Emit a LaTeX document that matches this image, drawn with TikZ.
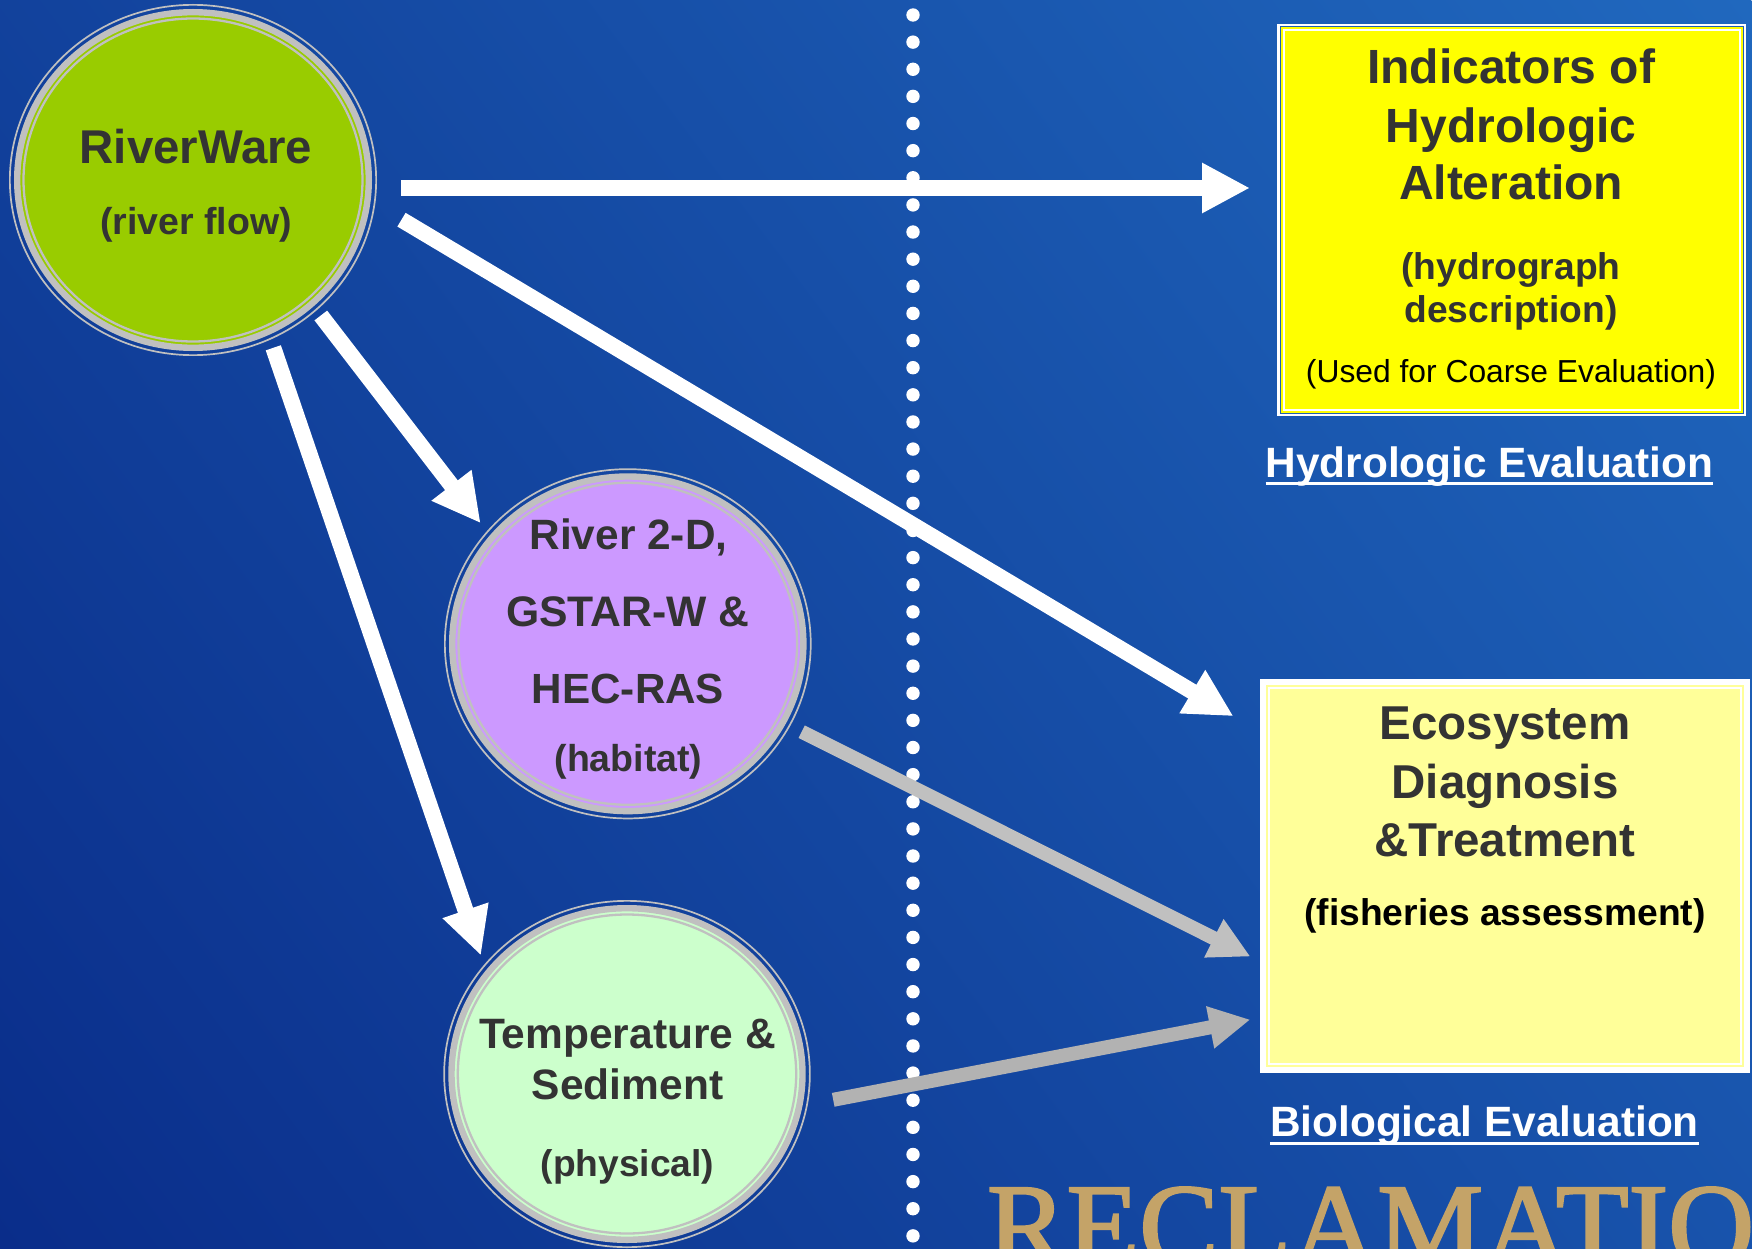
\documentclass[tikz,border=0pt]{standalone}
\usepackage{fontspec}
\setmainfont{Liberation Sans}
\newfontfamily\recfont[FakeBold=2]{Liberation Serif}
\usetikzlibrary{arrows.meta,shapes.geometric}
\definecolor{bgdark}{HTML}{0A2D8A}
\definecolor{bgmid}{HTML}{1345A2}
\definecolor{bglight}{HTML}{2068BE}
\definecolor{boxblue}{HTML}{1F60B6}
\definecolor{ringgray}{HTML}{C0C0C0}
\definecolor{greyb}{HTML}{B2B2B2}
\definecolor{inkd}{HTML}{333333}
\definecolor{lime}{HTML}{99CC00}
\definecolor{lilac}{HTML}{CC99FF}
\definecolor{mint}{HTML}{CCFFCC}
\definecolor{paley}{HTML}{FFFF99}
\definecolor{brighty}{RGB}{255,255,0}
\definecolor{gold}{HTML}{C4A368}
\tikzset{
  x=1pt,y=-1pt,
  thickarrow/.style={line width=16pt,white,-{Triangle[length=48pt,width=47pt]}},
  greyarrow/.style={line width=14pt,-{Triangle[length=41pt,width=40pt]}},
  txt/.style={anchor=base,inner sep=0pt,outer sep=0pt,align=center},
  dark/.style={txt,text=inkd,font=\bfseries},
  head/.style={txt,text=white,font=\bfseries\fontsize{42.4}{42.4}\selectfont},
  under/.style={white,line width=3pt},
  bubble/.style={ellipse,inner sep=0pt,outer sep=0pt,draw=ringgray,line width=1.7pt},
}
\newcommand{\fs}[1]{\fontsize{#1}{#1}\selectfont}
% name, x, y, rx, ry, fill
\newcommand{\bubblenode}[6]{%
  \fill[#6] (#2,#3) ellipse [x radius=#4-6,y radius=#5-6];
  \draw[ringgray,line width=6.4pt] (#2,#3) ellipse [x radius=#4-8.2,y radius=#5-8.2];
  \draw[ringgray,line width=2.3pt] (#2,#3) ellipse [x radius=#4-14.5,y radius=#5-14.5];
  \node[bubble,minimum width=2*#4*1pt-1.7pt,minimum height=2*#5*1pt-1.7pt] (#1) at (#2,#3) {};
}
\begin{document}
\begin{tikzpicture}
\useasboundingbox (0,0) rectangle (1752,1249);
\begin{scope}
\clip (0,0) rectangle (1752,1249);
% background
\shade[transform canvas={shift={(0pt,-1249pt)},rotate=37},left color=bgdark,middle color=bgmid,right color=bglight]
  (0pt,-3000pt) rectangle (2150pt,3000pt);
% logo text
\node[anchor=base west,inner sep=0pt,text=gold] (logo) at (987,1266) {\recfont\fs{119}RECLAMATIO};
% dotted divider
\coordinate (dtop) at (913,15);
\coordinate (dbot) at (913,1240);
\draw[white,line width=13.4pt,line cap=round,dash pattern=on 0pt off 27.13pt] (dtop) -- (dbot);
% arrow ends
\coordinate (a1s) at (401,188);     \coordinate (a1e) at (1250,188);
\coordinate (a2s) at (401.5,219.7); \coordinate (a2e) at (1233.5,716.2);
\coordinate (a3s) at (320.8,315.5); \coordinate (a3e) at (480.7,523.3);
\coordinate (a4s) at (273.3,347.8); \coordinate (a4e) at (481,955.7);
\coordinate (a5s) at (801.7,731.7); \coordinate (a5e) at (1250.5,956.6);
\coordinate (a6s) at (833.2,1099.8);\coordinate (a6e) at (1250.4,1019.6);
\draw[thickarrow] (a1s) -- (a1e);
\draw[thickarrow] (a2s) -- (a2e);
\draw[thickarrow] (a3s) -- (a3e);
\draw[thickarrow,-{Triangle[length=48pt,width=45pt]}] (a4s) -- (a4e);
\draw[greyarrow,ringgray] (a5s) -- (a5e);
\draw[greyarrow,greyb] (a6s) -- (a6e);
% circles
\bubblenode{river}{193}{180}{184}{176}{lime}
\bubblenode{hab}{627.8}{643.8}{183.8}{175.5}{lilac}
\bubblenode{phys}{627}{1074}{183.7}{174}{mint}
\node[dark,font=\bfseries\fs{47.4}] (t1) at (196,163.3) {RiverWare};
\node[dark,font=\bfseries\fs{37.5}] (t2) at (196,235) {(river flow)};
\node[dark,font=\bfseries\fs{42.4}] (t3) at (628.5,549) {River 2-D,};
\node[dark,font=\bfseries\fs{42.7}] (t4) at (628,626) {GSTAR-W \&};
\node[dark,font=\bfseries\fs{42.2}] (t5) at (628,703.5) {HEC-RAS};
\node[dark,font=\bfseries\fs{37.5}] (t6) at (628.5,771) {(habitat)};
\node[dark,font=\bfseries\fs{42.5}] (t7) at (627.5,1048) {Temperature \&};
\node[dark,font=\bfseries\fs{42.5}] (t8) at (627.5,1099) {Sediment};
\node[dark,font=\bfseries\fs{37.2}] (t9) at (627.5,1176.5) {(physical)};
% box 1
\node[rectangle,fill=white,inner sep=0pt,minimum width=468.7pt,minimum height=392pt] (hia) at (1511.65,220) {};
\fill[boxblue] (1279.5,26.2) rectangle (1743.8,413.8);
\fill[brighty] (1280.5,27.2) rectangle (1742.8,412.8);
\fill[white] (1282.5,29.2) rectangle (1740.8,410.8);
\fill[brighty] (1284.7,31.4) rectangle (1738.6,408.6);
\node[dark,font=\bfseries\fs{48}] (b1) at (1511,83.8) {Indicators of};
\node[dark,font=\bfseries\fs{48}] (b2) at (1511,142.2) {Hydrologic};
\node[dark,font=\bfseries\fs{48}] (b3) at (1511,199.8) {Alteration};
\node[dark,font=\bfseries\fs{37.2}] (b4) at (1511,279.3) {(hydrograph};
\node[dark,font=\bfseries\fs{37.2}] (b5) at (1511,322.7) {description)};
\node[txt,font=\fs{31.8}] (b6) at (1511,382.7) {(Used for Coarse Evaluation)};
% box 2
\node[rectangle,fill=white,inner sep=0pt,minimum width=489.7pt,minimum height=393.4pt] (edt) at (1505.15,876) {};
\fill[paley] (1266.3,685.3) rectangle (1744,1066.7);
\fill[white] (1268.3,687.3) rectangle (1742,1064.7);
\fill[paley] (1270,689) rectangle (1740.3,1063);
\node[dark,font=\bfseries\fs{47.5}] (e1) at (1505,739.7) {Ecosystem};
\node[dark,font=\bfseries\fs{47.5}] (e2) at (1505,798) {Diagnosis};
\node[dark,font=\bfseries\fs{47.5}] (e3) at (1505,856) {\&Treatment};
\node[txt,font=\bfseries\fs{37.2}] (e4) at (1505,925) {(fisheries assessment)};
% headings
\node[head] (h1) at (1489.4,477) {Hydrologic Evaluation};
\draw[under] ([yshift=-6.5pt]h1.base west) -- ([yshift=-6.5pt]h1.base east);
\node[head] (h2) at (1484.4,1136) {Biological Evaluation};
\draw[under] ([yshift=-7pt]h2.base west) -- ([yshift=-7pt]h2.base east);
\end{scope}
\end{tikzpicture}
\end{document}
